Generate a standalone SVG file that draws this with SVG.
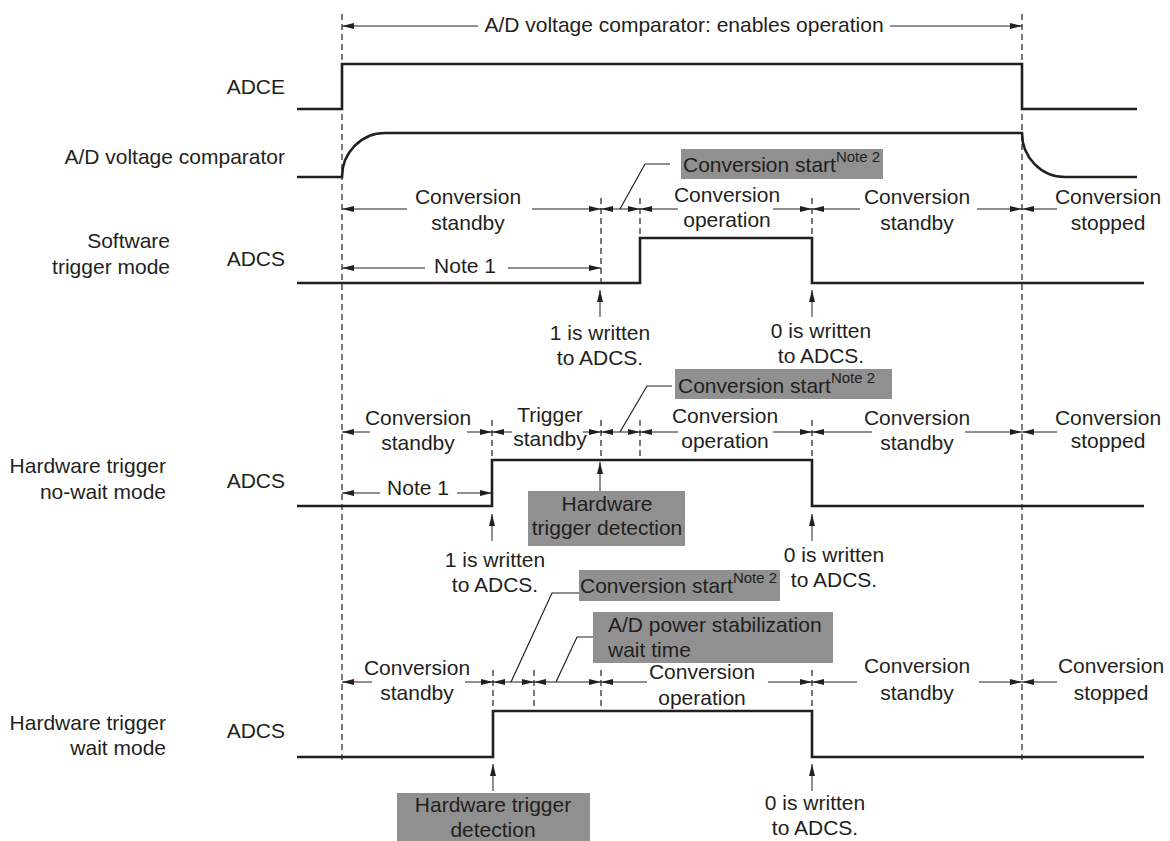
<svg xmlns="http://www.w3.org/2000/svg" width="1170" height="841" viewBox="0 0 1170 841">
<defs>
<marker id="ah" viewBox="0 0 12 6" refX="12" refY="3" markerWidth="12" markerHeight="6" markerUnits="userSpaceOnUse" orient="auto-start-reverse">
<path d="M0,0 L12,3 L0,6 z" fill="#231f20"/>
</marker>
<style>
text{font-family:"Liberation Sans",Arial,sans-serif;font-size:21px;fill:#231f20}
.m{text-anchor:middle}
.r{text-anchor:end}
.sig{fill:none;stroke:#231f20;stroke-width:2.6}
.dash{fill:none;stroke:#231f20;stroke-width:1.2;stroke-dasharray:6 4}
.ar{fill:none;stroke:#231f20;stroke-width:1;marker-end:url(#ah)}
.ar2{fill:none;stroke:#231f20;stroke-width:1;marker-end:url(#ah);marker-start:url(#ah)}
.ld{fill:none;stroke:#231f20;stroke-width:1.2}
.box{fill:#909090}
.sup{font-size:15px}
</style>
</defs>
<rect width="1170" height="841" fill="#ffffff"/>

<g id="labels">
<text class="r" x="285" y="94">ADCE</text>
<text class="r" x="285" y="164">A/D voltage comparator</text>
<text class="r" x="170" y="248">Software</text>
<text class="r" x="170" y="274">trigger mode</text>
<text class="r" x="285" y="266">ADCS</text>
<text class="r" x="166" y="473">Hardware trigger</text>
<text class="r" x="166" y="499">no-wait mode</text>
<text class="r" x="285" y="488">ADCS</text>
<text class="r" x="166" y="730">Hardware trigger</text>
<text class="r" x="166" y="755">wait mode</text>
<text class="r" x="285" y="738">ADCS</text>
</g>

<g id="guides">
<line class="dash" x1="342" y1="14" x2="342" y2="760"/>
<line class="dash" x1="1022" y1="14" x2="1022" y2="760"/>
<line class="dash" x1="601" y1="198" x2="601" y2="283"/>
<line class="dash" x1="640" y1="198" x2="640" y2="238"/>
<line class="dash" x1="812" y1="198" x2="812" y2="238"/>
<line class="dash" x1="492" y1="420" x2="492" y2="460"/>
<line class="dash" x1="601" y1="420" x2="601" y2="460"/>
<line class="dash" x1="640" y1="420" x2="640" y2="460"/>
<line class="dash" x1="812" y1="420" x2="812" y2="460"/>
<line class="dash" x1="493" y1="670" x2="493" y2="711"/>
<line class="dash" x1="534" y1="670" x2="534" y2="711"/>
<line class="dash" x1="601" y1="670" x2="601" y2="711"/>
<line class="dash" x1="812" y1="670" x2="812" y2="711"/>
</g>

<g id="sig-adce"><path class="sig" d="M297,109 H342 V64 H1022 V109 H1137"/></g>
<g id="sig-comparator"><path class="sig" d="M297,177 H342 A43,44 0 0 1 385,133 H1022 A43,44 0 0 0 1065,177 H1137"/></g>
<g id="sig-adcs-sw"><path class="sig" d="M297,283 H640 V238 H812 V283 H1144"/></g>
<g id="sig-adcs-hw-nowait"><path class="sig" d="M297,506 H492 V460 H812 V506 H1144"/></g>
<g id="sig-adcs-hw-wait"><path class="sig" d="M297,757 H493 V711 H812 V757 H1144"/></g>

<g id="boxes">
<g id="cs1"><rect class="box" x="681" y="149" width="202" height="30"/><text x="683" y="172">Conversion start<tspan class="sup" dy="-10">Note 2</tspan></text></g>
<g id="cs2"><rect class="box" x="675" y="369" width="217" height="30"/><text x="678" y="393">Conversion start<tspan class="sup" dy="-10">Note 2</tspan></text></g>
<g id="cs3"><rect class="box" x="579" y="570" width="201" height="31"/><text x="580" y="593">Conversion start<tspan class="sup" dy="-10">Note 2</tspan></text></g>
<g id="hwdet2"><rect class="box" x="528" y="491" width="157" height="55"/><text class="m" x="607" y="511">Hardware</text><text class="m" x="607" y="535">trigger detection</text></g>
<g id="pwr3"><rect class="box" x="593" y="612" width="240" height="51"/><text x="608" y="632">A/D power stabilization</text><text x="608" y="657">wait time</text></g>
<g id="hwdet3"><rect class="box" x="397" y="793" width="193" height="48"/><text class="m" x="493" y="812">Hardware trigger</text><text class="m" x="493" y="837">detection</text></g>
</g>

<g id="texts">
<text class="m" x="684" y="32">A/D voltage comparator: enables operation</text>
<text class="m" x="468" y="204">Conversion</text><text class="m" x="468" y="230">standby</text>
<text class="m" x="727" y="202">Conversion</text><text class="m" x="727" y="227">operation</text>
<text class="m" x="917" y="204">Conversion</text><text class="m" x="917" y="230">standby</text>
<text class="m" x="1108" y="204">Conversion</text><text class="m" x="1108" y="230">stopped</text>
<text class="m" x="465" y="273">Note 1</text>
<text class="m" x="600" y="340">1 is written</text><text class="m" x="600" y="365">to ADCS.</text>
<text class="m" x="821" y="338">0 is written</text><text class="m" x="821" y="363">to ADCS.</text>

<text class="m" x="418" y="425">Conversion</text><text class="m" x="418" y="450">standby</text>
<text class="m" x="550" y="422">Trigger</text><text class="m" x="550" y="446">standby</text>
<text class="m" x="725" y="423">Conversion</text><text class="m" x="725" y="448">operation</text>
<text class="m" x="917" y="425">Conversion</text><text class="m" x="917" y="450">standby</text>
<text class="m" x="1108" y="425">Conversion</text><text class="m" x="1108" y="448">stopped</text>
<text class="m" x="418" y="495">Note 1</text>
<text class="m" x="495" y="567">1 is written</text><text class="m" x="495" y="592">to ADCS.</text>
<text class="m" x="834" y="562">0 is written</text><text class="m" x="834" y="587">to ADCS.</text>

<text class="m" x="417" y="675">Conversion</text><text class="m" x="417" y="700">standby</text>
<text class="m" x="702" y="679">Conversion</text><text class="m" x="702" y="705">operation</text>
<text class="m" x="917" y="673">Conversion</text><text class="m" x="917" y="700">standby</text>
<text class="m" x="1111" y="673">Conversion</text><text class="m" x="1111" y="700">stopped</text>
<text class="m" x="815" y="810">0 is written</text><text class="m" x="815" y="835">to ADCS.</text>
</g>

<g id="connectors">
<line class="ar" x1="478" y1="26" x2="342" y2="26"/>
<line class="ar" x1="890" y1="26" x2="1022" y2="26"/>

<line class="ar" x1="407" y1="209" x2="342" y2="209"/>
<line class="ar" x1="532" y1="209" x2="601" y2="209"/>
<line class="ar2" x1="601" y1="209" x2="640" y2="209"/>
<line class="ar" x1="678" y1="209" x2="640" y2="209"/>
<line class="ar" x1="773" y1="209" x2="812" y2="209"/>
<line class="ar" x1="860" y1="209" x2="812" y2="209"/>
<line class="ar" x1="977" y1="209" x2="1022" y2="209"/>
<line class="ar" x1="1057" y1="209" x2="1022" y2="209"/>
<line class="ar" x1="425" y1="268" x2="342" y2="268"/>
<line class="ar" x1="508" y1="268" x2="601" y2="268"/>
<line class="ar" x1="600" y1="317" x2="600" y2="290"/>
<line class="ar" x1="812" y1="317" x2="812" y2="290"/>
<polyline class="ld" points="670,164 645,164 620,209"/>

<line class="ar" x1="370" y1="432" x2="342" y2="432"/>
<line class="ar" x1="467" y1="432" x2="492" y2="432"/>
<line class="ar" x1="512" y1="432" x2="492" y2="432"/>
<line class="ar" x1="583" y1="432" x2="601" y2="432"/>
<line class="ar2" x1="601" y1="432" x2="640" y2="432"/>
<line class="ar" x1="678" y1="432" x2="640" y2="432"/>
<line class="ar" x1="773" y1="432" x2="812" y2="432"/>
<line class="ar" x1="872" y1="432" x2="812" y2="432"/>
<line class="ar" x1="965" y1="432" x2="1022" y2="432"/>
<line class="ar" x1="1057" y1="432" x2="1022" y2="432"/>
<line class="ar" x1="380" y1="493" x2="342" y2="493"/>
<line class="ar" x1="457" y1="493" x2="492" y2="493"/>
<line class="ar" x1="600" y1="491" x2="600" y2="462"/>
<line class="ar" x1="492" y1="541" x2="492" y2="514"/>
<line class="ar" x1="812" y1="541" x2="812" y2="514"/>
<polyline class="ld" points="672,386 647,386 620,432"/>

<line class="ar" x1="372" y1="682" x2="342" y2="682"/>
<line class="ar" x1="465" y1="682" x2="493" y2="682"/>
<line class="ar2" x1="493" y1="682" x2="534" y2="682"/>
<line class="ar2" x1="534" y1="682" x2="601" y2="682"/>
<line class="ar" x1="647" y1="682" x2="601" y2="682"/>
<line class="ar" x1="768" y1="682" x2="812" y2="682"/>
<line class="ar" x1="857" y1="682" x2="812" y2="682"/>
<line class="ar" x1="979" y1="682" x2="1022" y2="682"/>
<line class="ar" x1="1057" y1="682" x2="1022" y2="682"/>
<line class="ar" x1="493" y1="791" x2="493" y2="764"/>
<line class="ar" x1="812" y1="791" x2="812" y2="764"/>
<polyline class="ld" points="579,593 552,593 511,682"/>
<polyline class="ld" points="593,637 577,637 556,682"/>
</g>
</svg>
